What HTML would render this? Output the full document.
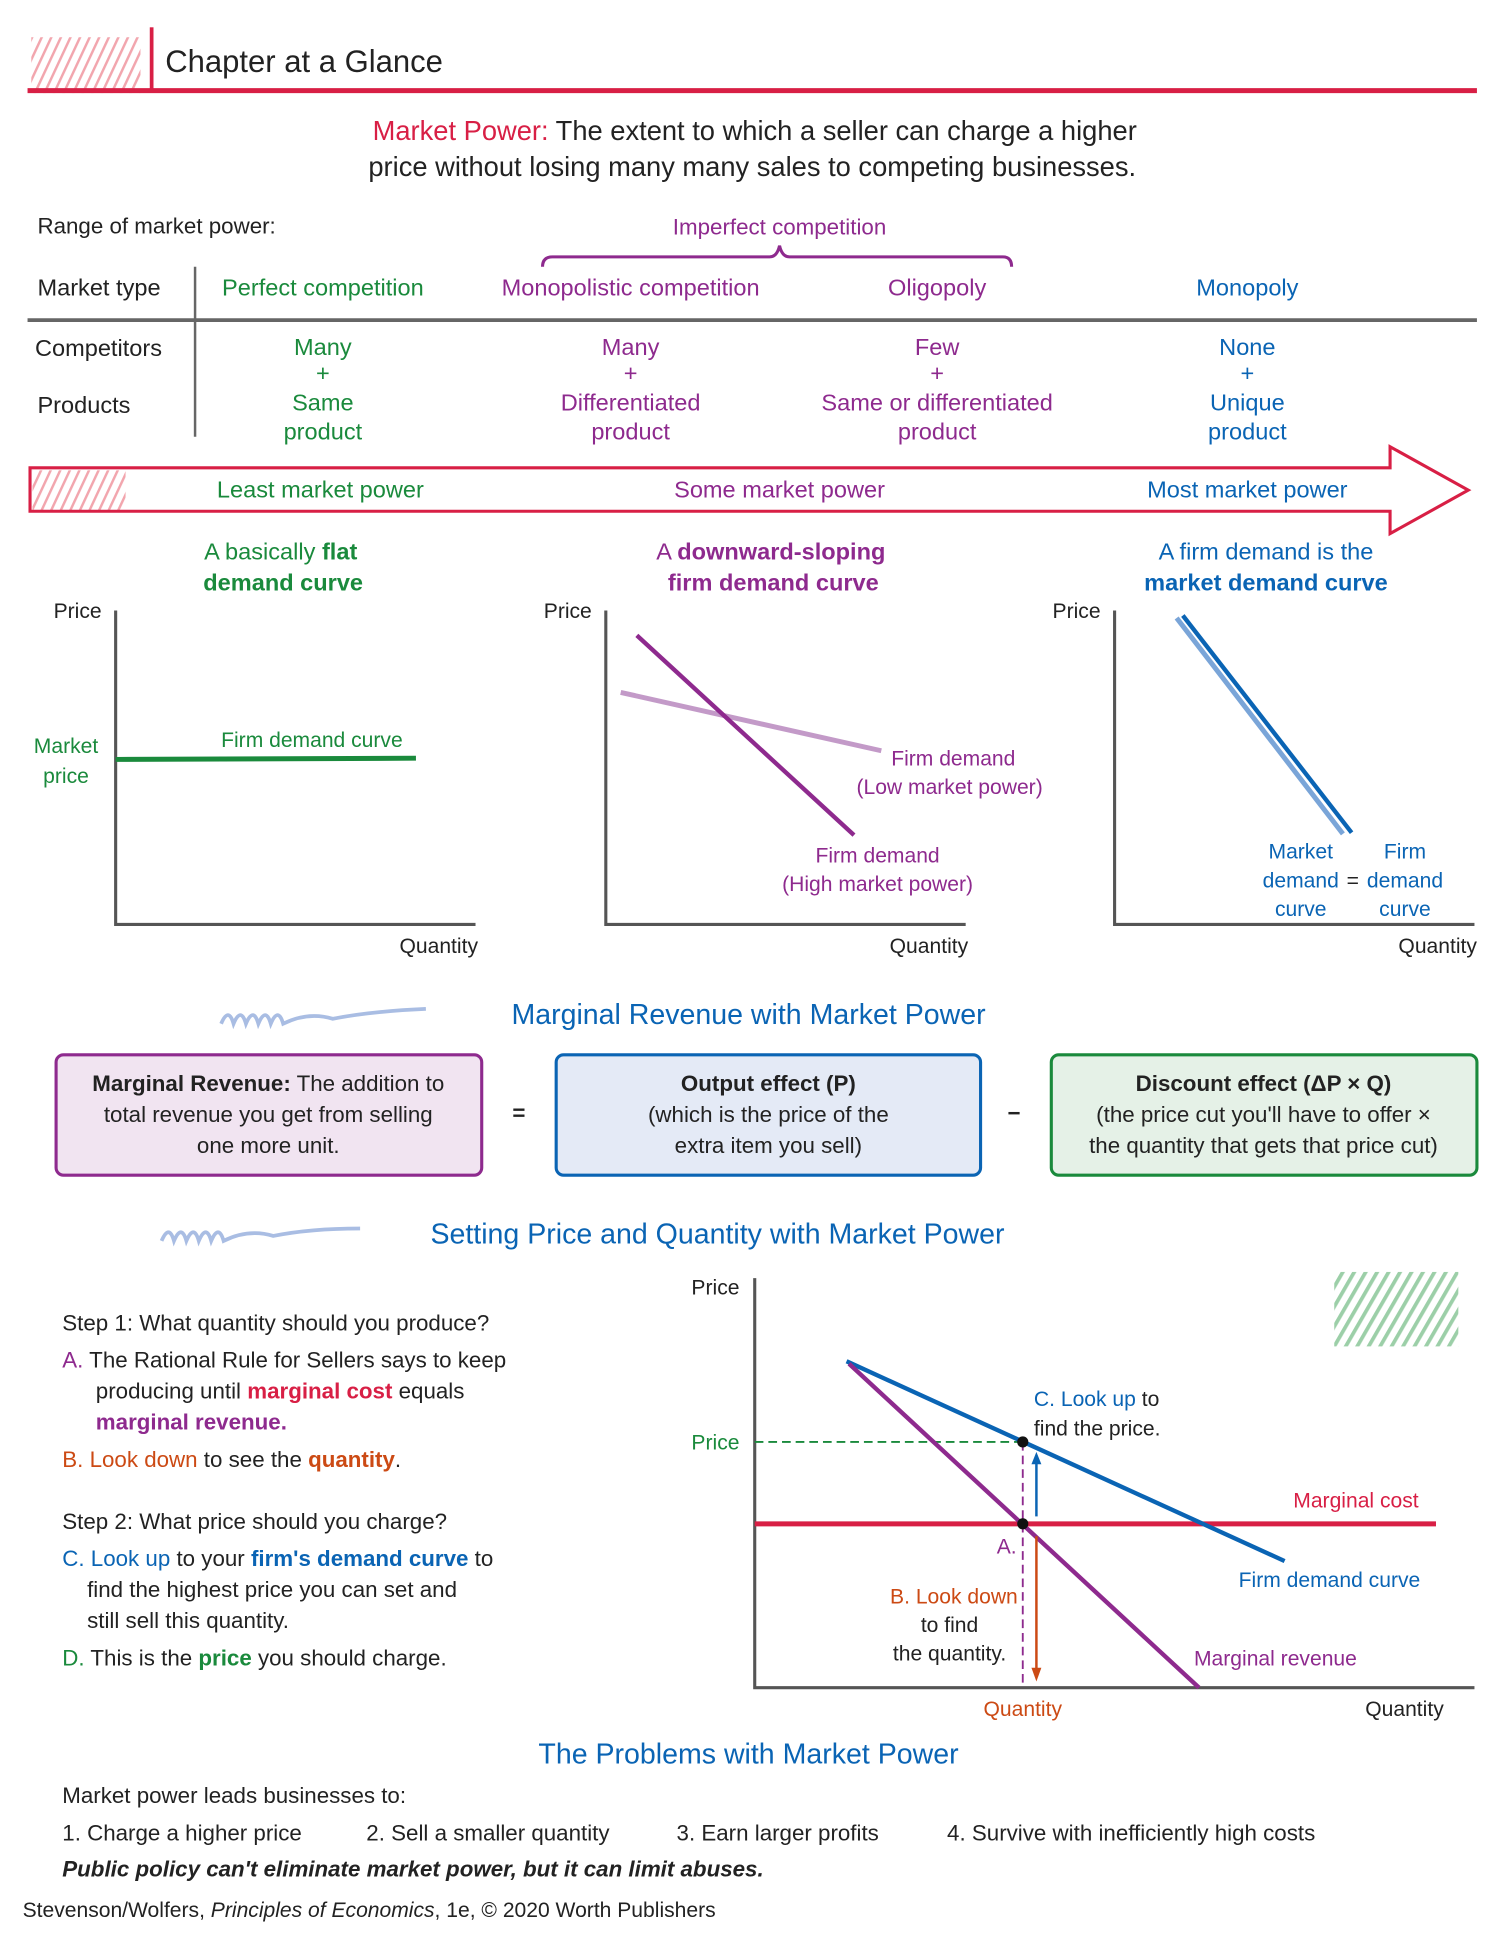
<!DOCTYPE html>
<html><head><meta charset="utf-8"><style>
html,body{margin:0;padding:0;background:#fff;}
svg{display:block;}
text{font-family:"Liberation Sans Narrow","Liberation Sans",sans-serif;}
.k{fill:#222}.g{fill:#1a8a3c}.p{fill:#8e2a8e}.b{fill:#0a64b4}.r{fill:#d81f45}.o{fill:#cc4a14}
</style></head><body>
<svg width="1502" height="1947" viewBox="0 0 1210 1569" xmlns="http://www.w3.org/2000/svg">
<defs>
<pattern id="hr" width="7" height="7" patternUnits="userSpaceOnUse" patternTransform="rotate(25)"><rect width="2" height="7" fill="#f2a6ae"/></pattern>
<pattern id="hg" width="8" height="8" patternUnits="userSpaceOnUse" patternTransform="rotate(30)"><rect width="3" height="8" fill="#9ccfa8"/></pattern>
</defs>
<!-- header -->
<rect x="25" y="30" width="88" height="45" fill="url(#hr)"/>
<line x1="122" y1="22" x2="122" y2="73" stroke="#d81f45" stroke-width="3"/>
<line x1="22" y1="73" x2="1190" y2="73" stroke="#d81f45" stroke-width="4"/>
<text x="133" y="58" font-size="25" class="k">Chapter at a Glance</text>
<text x="608" y="113" font-size="22" text-anchor="middle" class="k"><tspan class="r">Market Power:</tspan> The extent to which a seller can charge a higher</text>
<text x="606" y="142" font-size="22" text-anchor="middle" class="k">price without losing many many sales to competing businesses.</text>
<text x="30" y="188" font-size="18" class="k">Range of market power:</text>
<text x="628" y="189" font-size="18" text-anchor="middle" class="p">Imperfect competition</text>
<path d="M437,215 Q437,207 445,207 L620,207 Q626,207 628,198 Q630,207 636,207 L808,207 Q815,207 815,215" fill="none" stroke="#8e2a8e" stroke-width="2.5"/>
<text x="30" y="238" font-size="19" class="k">Market type</text>
<line x1="157" y1="215" x2="157" y2="352" stroke="#666" stroke-width="2"/>
<line x1="22" y1="258" x2="1190" y2="258" stroke="#666" stroke-width="3"/>
<g font-size="19" text-anchor="middle">
<text x="260" y="238" class="g">Perfect competition</text>
<text x="508" y="238" class="p">Monopolistic competition</text>
<text x="755" y="238" class="p">Oligopoly</text>
<text x="1005" y="238" class="b">Monopoly</text>
</g>
<text x="28" y="287" font-size="19" class="k">Competitors</text>
<text x="30" y="333" font-size="19" class="k">Products</text>
<g font-size="19" text-anchor="middle">
<g class="g"><text x="260" y="286">Many</text><text x="260" y="307">+</text><text x="260" y="331">Same</text><text x="260" y="354">product</text></g>
<g class="p"><text x="508" y="286">Many</text><text x="508" y="307">+</text><text x="508" y="331">Differentiated</text><text x="508" y="354">product</text></g>
<g class="p"><text x="755" y="286">Few</text><text x="755" y="307">+</text><text x="755" y="331">Same or differentiated</text><text x="755" y="354">product</text></g>
<g class="b"><text x="1005" y="286">None</text><text x="1005" y="307">+</text><text x="1005" y="331">Unique</text><text x="1005" y="354">product</text></g>
</g>
<!-- arrow -->
<rect x="26" y="379" width="75" height="32" fill="url(#hr)"/>
<path d="M24,377 L1120,377 L1120,360 L1183,395 L1120,430 L1120,412 L24,412 Z" fill="none" stroke="#d81f45" stroke-width="2.5"/>
<g font-size="19" text-anchor="middle">
<text x="258" y="401" class="g">Least market power</text>
<text x="628" y="401" class="p">Some market power</text>
<text x="1005" y="401" class="b">Most market power</text>
</g>
<!-- chart titles -->
<g font-size="19" text-anchor="middle">
<text x="226" y="451" class="g">A basically <tspan font-weight="bold">flat</tspan></text>
<text x="228" y="476" class="g" font-weight="bold">demand curve</text>
<text x="621" y="451" class="p">A <tspan font-weight="bold">downward-sloping</tspan></text>
<text x="623" y="476" class="p" font-weight="bold">firm demand curve</text>
<text x="1020" y="451" class="b">A firm demand is the</text>
<text x="1020" y="476" class="b" font-weight="bold">market demand curve</text>
</g>
<!-- chart 1 -->
<path d="M93,492 L93,745 L383,745" fill="none" stroke="#555" stroke-width="2.5"/>
<text x="43" y="498" font-size="17" class="k">Price</text>
<text x="385" y="768" font-size="17" text-anchor="end" class="k">Quantity</text>
<line x1="93" y1="612" x2="335" y2="611" stroke="#1a8a3c" stroke-width="4"/>
<text x="53" y="607" font-size="17" text-anchor="middle" class="g">Market</text>
<text x="53" y="631" font-size="17" text-anchor="middle" class="g">price</text>
<text x="178" y="602" font-size="17" class="g">Firm demand curve</text>
<!-- chart 2 -->
<path d="M488,492 L488,745 L778,745" fill="none" stroke="#555" stroke-width="2.5"/>
<text x="438" y="498" font-size="17" class="k">Price</text>
<text x="780" y="768" font-size="17" text-anchor="end" class="k">Quantity</text>
<line x1="500" y1="558" x2="710" y2="605" stroke="#c39ac8" stroke-width="4"/>
<line x1="513" y1="512" x2="688" y2="673" stroke="#8e2a8e" stroke-width="3.5"/>
<text x="718" y="617" font-size="17" class="p">Firm demand</text>
<text x="690" y="640" font-size="17" class="p">(Low market power)</text>
<text x="707" y="695" font-size="17" text-anchor="middle" class="p">Firm demand</text>
<text x="707" y="718" font-size="17" text-anchor="middle" class="p">(High market power)</text>
<!-- chart 3 -->
<path d="M898,492 L898,745 L1188,745" fill="none" stroke="#555" stroke-width="2.5"/>
<text x="848" y="498" font-size="17" class="k">Price</text>
<text x="1190" y="768" font-size="17" text-anchor="end" class="k">Quantity</text>
<line x1="948" y1="498" x2="1082" y2="672" stroke="#7aa5d8" stroke-width="4"/>
<line x1="953" y1="496" x2="1089" y2="671" stroke="#0a64b4" stroke-width="3.5"/>
<g font-size="17" text-anchor="middle" class="b">
<text x="1048" y="692">Market</text><text x="1048" y="715">demand</text><text x="1048" y="738">curve</text>
<text x="1090" y="715" class="k">=</text>
<text x="1132" y="692">Firm</text><text x="1132" y="715">demand</text><text x="1132" y="738">curve</text>
</g>
<!-- MR section -->
<path d="M178,825 q6,-14 10,0 q6,-14 10,0 q6,-14 10,0 q6,-14 10,0 q6,-14 10,0 q20,-10 40,-4 q30,-6 75,-8" fill="none" stroke="#a9bde3" stroke-width="3"/>
<text x="603" y="825" font-size="23" text-anchor="middle" class="b">Marginal Revenue with Market Power</text>
<rect x="45" y="850" width="343" height="97" rx="6" fill="#f1e4f1" stroke="#8e2a8e" stroke-width="2.5"/>
<rect x="448" y="850" width="342" height="97" rx="6" fill="#e4eaf6" stroke="#0a64b4" stroke-width="2.5"/>
<rect x="847" y="850" width="343" height="97" rx="6" fill="#e5f1e7" stroke="#1a8a3c" stroke-width="2.5"/>
<g font-size="18" text-anchor="middle" class="k">
<text x="216" y="879"><tspan font-weight="bold">Marginal Revenue:</tspan> The addition to</text>
<text x="216" y="904">total revenue you get from selling</text>
<text x="216" y="929">one more unit.</text>
<text x="418" y="903" font-weight="bold">=</text>
<text x="619" y="879" font-weight="bold">Output effect (P)</text>
<text x="619" y="904">(which is the price of the</text>
<text x="619" y="929">extra item you sell)</text>
<text x="817" y="903" font-weight="bold">−</text>
<text x="1018" y="879" font-weight="bold">Discount effect (ΔP × Q)</text>
<text x="1018" y="904">(the price cut you'll have to offer ×</text>
<text x="1018" y="929">the quantity that gets that price cut)</text>
</g>
<!-- setting section -->
<path d="M130,1000 q6,-14 10,0 q6,-14 10,0 q6,-14 10,0 q6,-14 10,0 q6,-14 10,0 q20,-10 40,-4 q30,-6 70,-6" fill="none" stroke="#a9bde3" stroke-width="3"/>
<text x="578" y="1002" font-size="23" text-anchor="middle" class="b">Setting Price and Quantity with Market Power</text>
<g font-size="18" class="k">
<text x="50" y="1072">Step 1: What quantity should you produce?</text>
<text x="50" y="1102"><tspan class="p">A.</tspan> The Rational Rule for Sellers says to keep</text>
<text x="77" y="1127">producing until <tspan class="r" font-weight="bold">marginal cost</tspan> equals</text>
<text x="77" y="1152" class="p" font-weight="bold">marginal revenue.</text>
<text x="50" y="1182"><tspan class="o">B. Look down</tspan> to see the <tspan class="o" font-weight="bold">quantity</tspan>.</text>
<text x="50" y="1232">Step 2: What price should you charge?</text>
<text x="50" y="1262"><tspan class="b">C. Look up</tspan> to your <tspan class="b" font-weight="bold">firm's demand curve</tspan> to</text>
<text x="70" y="1287">find the highest price you can set and</text>
<text x="70" y="1312">still sell this quantity.</text>
<text x="50" y="1342"><tspan class="g">D.</tspan> This is the <tspan class="g" font-weight="bold">price</tspan> you should charge.</text>
</g>
<!-- bottom chart -->
<rect x="1075" y="1025" width="100" height="60" fill="url(#hg)"/>
<path d="M608,1030 L608,1360 L1188,1360" fill="none" stroke="#555" stroke-width="2.5"/>
<text x="557" y="1043" font-size="17" class="k">Price</text>
<line x1="608" y1="1228" x2="1157" y2="1228" stroke="#d81f45" stroke-width="4"/>
<line x1="608" y1="1162" x2="824" y2="1162" stroke="#1a8a3c" stroke-width="1.5" stroke-dasharray="7,4"/>
<line x1="824" y1="1162" x2="824" y2="1360" stroke="#8e2a8e" stroke-width="1.5" stroke-dasharray="7,4"/>
<line x1="682" y1="1097" x2="1035" y2="1258" stroke="#0a64b4" stroke-width="3.5"/>
<line x1="684" y1="1099" x2="966" y2="1360" stroke="#8e2a8e" stroke-width="3.5"/>
<circle cx="824" cy="1162" r="4.5" fill="#111"/>
<circle cx="824" cy="1228" r="4.5" fill="#111"/>
<line x1="835" y1="1222" x2="835" y2="1178" stroke="#0a64b4" stroke-width="2"/>
<path d="M831,1180 L835,1170 L839,1180 Z" fill="#0a64b4"/>
<line x1="835" y1="1238" x2="835" y2="1346" stroke="#cc4a14" stroke-width="2"/>
<path d="M831,1344 L835,1355 L839,1344 Z" fill="#cc4a14"/>
<g font-size="17">
<text x="557" y="1168" class="g">Price</text>
<text x="833" y="1133" class="b">C. Look up <tspan class="k">to</tspan></text>
<text x="833" y="1157" class="k">find the price.</text>
<text x="1042" y="1215" class="r">Marginal cost</text>
<text x="803" y="1252" class="p">A.</text>
<text x="998" y="1279" class="b">Firm demand curve</text>
<text x="820" y="1292" text-anchor="end" class="o">B. Look down</text>
<text x="765" y="1315" text-anchor="middle" class="k">to find</text>
<text x="765" y="1338" text-anchor="middle" class="k">the quantity.</text>
<text x="962" y="1342" class="p">Marginal revenue</text>
<text x="824" y="1383" text-anchor="middle" class="o">Quantity</text>
<text x="1100" y="1383" class="k">Quantity</text>
</g>
<text x="603" y="1421" font-size="23" text-anchor="middle" class="b">The Problems with Market Power</text>
<g font-size="18" class="k">
<text x="50" y="1453">Market power leads businesses to:</text>
<text x="50" y="1483">1. Charge a higher price</text>
<text x="295" y="1483">2. Sell a smaller quantity</text>
<text x="545" y="1483">3. Earn larger profits</text>
<text x="763" y="1483">4. Survive with inefficiently high costs</text>
<text x="50" y="1512" font-weight="bold" font-style="italic">Public policy can't eliminate market power, but it can limit abuses.</text>
</g>
<text x="18" y="1545" font-size="17" class="k" style="font-family:'Liberation Sans Narrow','Liberation Sans',sans-serif">Stevenson/Wolfers, <tspan font-style="italic">Principles of Economics</tspan>, 1e, © 2020 Worth Publishers</text>
</svg>
</body></html>
